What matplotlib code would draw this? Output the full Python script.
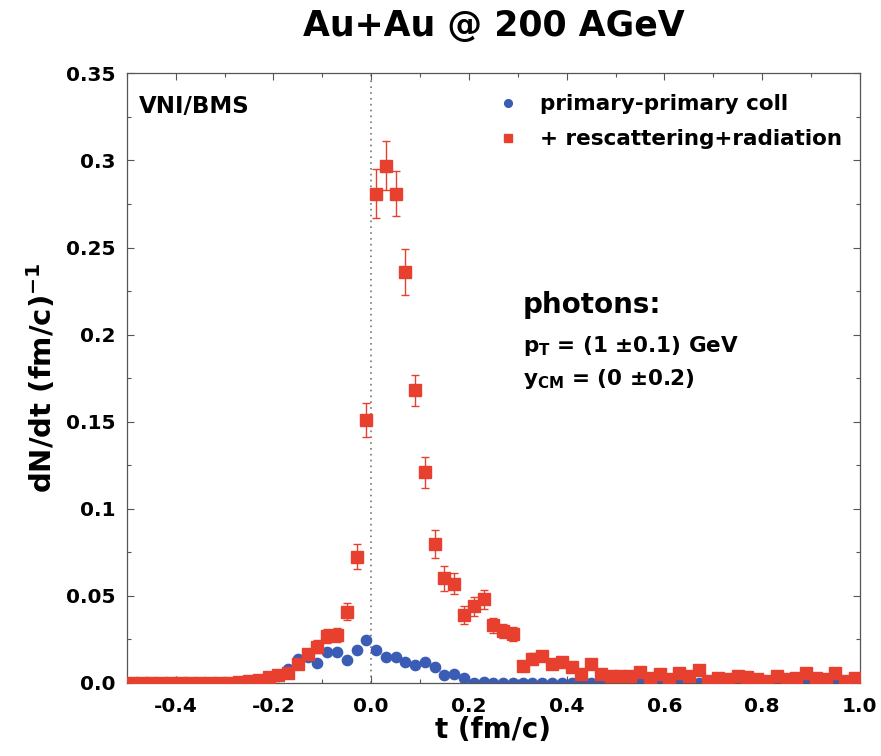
import matplotlib.pyplot as plt
from matplotlib.ticker import MultipleLocator, FixedLocator

# bin centres (fm/c)
t = [-0.49, -0.47, -0.45, -0.43, -0.41, -0.39, -0.37, -0.35, -0.33, -0.31,
     -0.29, -0.27, -0.25, -0.23, -0.21, -0.19, -0.17, -0.15, -0.13, -0.11,
     -0.09, -0.07, -0.05, -0.03, -0.01, 0.01, 0.03, 0.05, 0.07, 0.09,
     0.11, 0.13, 0.15, 0.17, 0.19, 0.21, 0.23, 0.25, 0.27, 0.29,
     0.31, 0.33, 0.35, 0.37, 0.39, 0.41, 0.43, 0.45, 0.47, 0.49,
     0.51, 0.53, 0.55, 0.57, 0.59, 0.61, 0.63, 0.65, 0.67, 0.69,
     0.71, 0.73, 0.75, 0.77, 0.79, 0.81, 0.83, 0.85, 0.87, 0.89,
     0.91, 0.93, 0.95, 0.97, 0.99]

# primary-primary collisions
blue = [0, 0, 0, 0, 0, 0, 0, 0, 0, 0,
        0, 0, 0, 0.001, 0.002, 0.004, 0.008, 0.0136, 0.015, 0.0117,
        0.0175, 0.0175, 0.013, 0.019, 0.0247, 0.0187, 0.0151, 0.0147, 0.012, 0.0103,
        0.012, 0.0094, 0.0046, 0.0052, 0.0027, 0.0, 0.0006, 0, 0, 0,
        0, 0, 0, 0, 0, 0, 0, 0, 0, 0,
        0, 0, 0, 0, 0, 0, 0, 0, 0, 0,
        0, 0, 0, 0, 0, 0, 0, 0, 0, 0,
        0, 0, 0, 0, 0]

# + rescattering + radiation
red = [0, 0, 0, 0, 0, 0, 0, 0, 0, 0,
       0, 0.0005, 0.001, 0.0017, 0.0036, 0.0046, 0.0055, 0.011, 0.0166, 0.0208,
       0.027, 0.0275, 0.041, 0.0725, 0.151, 0.281, 0.297, 0.281, 0.236, 0.168,
       0.121, 0.080, 0.060, 0.057, 0.039, 0.044, 0.048, 0.033, 0.030, 0.028,
       0.010, 0.014, 0.0155, 0.011, 0.012, 0.009, 0.005, 0.011, 0.005, 0.004,
       0.004, 0.004, 0.0065, 0.003, 0.005, 0.002, 0.006, 0.004, 0.0075, 0.001,
       0.003, 0.002, 0.004, 0.0035, 0.002, 0.001, 0.004, 0.002, 0.003, 0.006,
       0.003, 0.002, 0.006, 0.001, 0.003]

red_err = [0, 0, 0, 0, 0, 0, 0, 0, 0, 0,
           0, 0.0005, 0.0008, 0.001, 0.0015, 0.0017, 0.002, 0.0026, 0.003, 0.0036,
           0.004, 0.004, 0.005, 0.007, 0.010, 0.014, 0.014, 0.013, 0.013, 0.009,
           0.009, 0.008, 0.007, 0.006, 0.005, 0.0055, 0.0055, 0.0045, 0.004, 0.004,
           0.0025, 0.003, 0.003, 0.0025, 0.0027, 0.0024, 0.0018, 0.0026, 0.0018, 0.0015,
           0.0015, 0.0015, 0.002, 0.0014, 0.0018, 0.0012, 0.002, 0.0015, 0.002, 0.0008,
           0.0014, 0.0012, 0.0015, 0.0015, 0.0012, 0.0008, 0.0015, 0.0012, 0.0014, 0.002,
           0.0014, 0.0012, 0.002, 0.0008, 0.0014]

RED = "#e8402f"
BLUE = "#3a5cb4"

plt.rcParams["font.family"] = ["DejaVu Sans"]
plt.rcParams["font.weight"] = "bold"
plt.rcParams["mathtext.fontset"] = "custom"
plt.rcParams["mathtext.rm"] = "DejaVu Sans:bold"
plt.rcParams["mathtext.it"] = "DejaVu Sans:bold"
plt.rcParams["mathtext.bf"] = "DejaVu Sans:bold"

fig = plt.figure(figsize=(8.81, 7.56), dpi=100)
ax = fig.add_axes([0.144, 0.0966, 0.832, 0.8064])

ax.axvline(0, color="#777777", linestyle=(0, (1, 2.5)), linewidth=1.2, zorder=1)

ax.plot(t, blue, "o", color=BLUE, ms=7.4, mec=BLUE, zorder=2,
        label="primary-primary coll")
ax.errorbar(t, red, yerr=red_err, fmt="none", ecolor=RED, elinewidth=1.0,
            capsize=3, capthick=1.0, zorder=3)
ax.plot(t, red, "s", color=RED, ms=8, mec=RED, zorder=4,
        label="+ rescattering+radiation")

ax.set_xlim(-0.5, 1.0)
ax.set_ylim(0, 0.35)
ax.xaxis.set_major_locator(FixedLocator([-0.4, -0.2, 0.0, 0.2, 0.4, 0.6, 0.8, 1.0]))
ax.xaxis.set_minor_locator(MultipleLocator(0.1))
ax.yaxis.set_minor_locator(MultipleLocator(0.025))
ax.set_xticklabels(["-0.4", "-0.2", "0.0", "0.2", "0.4", "0.6", "0.8", "1.0"])
ax.set_yticks([0, 0.05, 0.1, 0.15, 0.2, 0.25, 0.3, 0.35])
ax.set_yticklabels(["0.0", "0.05", "0.1", "0.15", "0.2", "0.25", "0.3", "0.35"])
ax.tick_params(which="both", direction="in", top=True, right=True,
               labelsize=14.5, color="#555555", width=0.8)
ax.tick_params(axis="y", which="major", length=5, pad=8)
ax.tick_params(axis="x", which="major", length=5, pad=10)
ax.tick_params(which="minor", length=3)
for s in ax.spines.values():
    s.set_color("#555555")
    s.set_linewidth(0.9)

ax.set_xlabel("t (fm/c)", fontsize=20, fontweight="bold", labelpad=0)
ax.set_ylabel(r"dN/dt (fm/c)$^{\mathregular{-1}}$", fontsize=21,
              fontweight="bold", labelpad=6)
fig.text(0.56, 0.966, "Au+Au @ 200 AGeV", ha="center", va="center",
         fontsize=25, fontweight="bold")

ax.text(0.017, 0.965, "VNI/BMS", transform=ax.transAxes, fontsize=16.5,
        fontweight="bold", va="top")

ax.legend(loc="upper left", bbox_to_anchor=(0.494, 0.98), frameon=False,
          fontsize=15.5, handletextpad=0.95, labelspacing=0.7,
          handlelength=1.0, borderpad=0.4, borderaxespad=0.0, markerscale=0.75)

ax.text(0.54, 0.607, "photons:", transform=ax.transAxes, fontsize=20,
        fontweight="bold", va="baseline")
ax.text(0.54, 0.543, r"p$_{\mathregular{T}}$ = (1 $\pm$0.1) GeV", transform=ax.transAxes,
        fontsize=15.5, fontweight="bold", va="baseline")
ax.text(0.54, 0.489, r"y$_{\mathregular{CM}}$ = (0 $\pm$0.2)", transform=ax.transAxes,
        fontsize=15.5, fontweight="bold", va="baseline")

fig.savefig("out.png", dpi=100)
